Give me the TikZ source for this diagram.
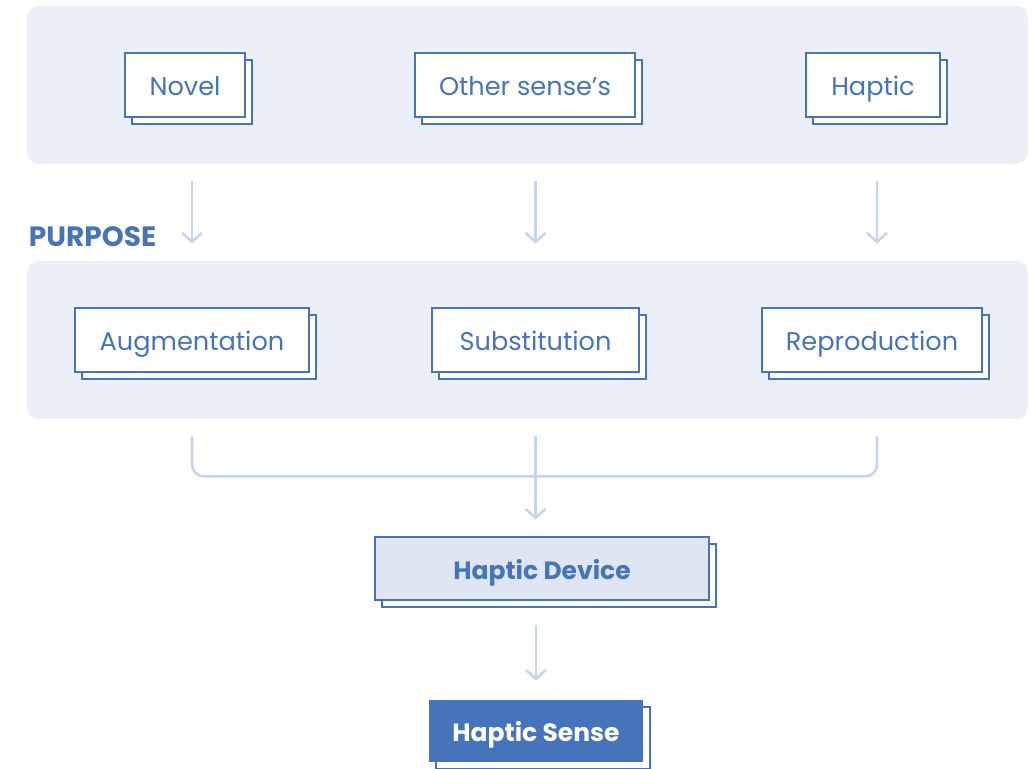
\documentclass[tikz,border=0pt]{standalone}
\usepackage{fontspec}
\setmainfont{Poppins}
\usetikzlibrary{arrows.meta,shadows,calc}

\definecolor{hblue}{HTML}{4674BA}
\definecolor{hpanel}{HTML}{EBF0F8}
\definecolor{hline}{HTML}{C6D5EB}
\definecolor{hdevice}{HTML}{E0E5F3}

\tikzset{
  panel/.style={fill=hpanel, rounded corners=6pt, minimum width=500.5pt, minimum height=79pt, inner sep=0pt},
  card/.style={draw=hblue, line width=1.3pt, fill=white, text=hblue, font=\fontsize{12.8}{14}\selectfont,
    minimum height=32pt, inner sep=0pt, text height=11.5pt, text depth=0.5pt,
    copy shadow={shadow xshift=3.5pt, shadow yshift=-3.5pt, draw=hblue, fill=white, line width=1.3pt}},
  flow/.style={draw=hline, line width=1.3pt, -{Straight Barb[length=4.5pt,width=10pt,line width=1.3pt]}},
  link/.style={draw=hline, line width=1.3pt, rounded corners=6pt}
}

\begin{document}
\begin{tikzpicture}[x=0.5pt,y=-0.5pt]
  \useasboundingbox (0,0) rectangle (1035,769);

  % panels
  \node[panel] (sense)   at (527.5,85)  {};
  \node[panel] (purpose) at (527.5,340) {};

  % first row
  \node[card, minimum width=60pt]  (novel)  at (185,85) {Novel};
  \node[card, minimum width=110pt] (other)  at (525,85) {Other sense’s};
  \node[card, minimum width=67pt]  (haptic) at (873,85) {Haptic};

  \node[text=hblue, font=\bfseries\fontsize{14}{16}\selectfont] (purposelabel) at (92.5,237) {PURPOSE};

  % second row
  \node[card, minimum width=117pt]   (aug)   at (192,340)   {Augmentation};
  \node[card, minimum width=103.5pt] (subst) at (535.5,340) {Substitution};
  \node[card, minimum width=110pt]   (repro) at (872,340)   {Reproduction};

  % outputs
  \node[card, fill=hdevice, font=\bfseries\fontsize{12.5}{14}\selectfont, minimum width=167pt, minimum height=31.5pt] (device) at (542,568.5) {Haptic Device};
  \node[card, draw=none, fill=hblue, text=white, font=\bfseries\fontsize{12.5}{14}\selectfont, minimum width=107pt, minimum height=31pt] (hsense) at (536,731) {Haptic Sense};

  % connectors
  \draw[flow] ([yshift=-8.5pt]sense.south -| aug) -- ([yshift=8.5pt]purpose.north -| aug);
  \draw[flow] ([yshift=-8.5pt]sense.south -| subst) -- ([yshift=8.5pt]purpose.north -| subst);
  \draw[flow] ([xshift=2.5pt,yshift=-8.5pt]sense.south -| repro) -- ([xshift=2.5pt,yshift=8.5pt]purpose.north -| repro);

  \draw[link] ([yshift=-8.5pt]purpose.south -| aug) -- ([yshift=-28.5pt]purpose.south -| aug)
     -- ([xshift=2.5pt,yshift=-28.5pt]purpose.south -| repro) -- ([xshift=2.5pt,yshift=-8.5pt]purpose.south -| repro);
  \draw[flow] ([yshift=-8.5pt]purpose.south -| subst) -- ([yshift=8pt]device.north -| subst);

  \draw[flow] ([yshift=-12pt]device.south -| hsense) -- ([yshift=9pt]hsense.north);
\end{tikzpicture}
\end{document}
